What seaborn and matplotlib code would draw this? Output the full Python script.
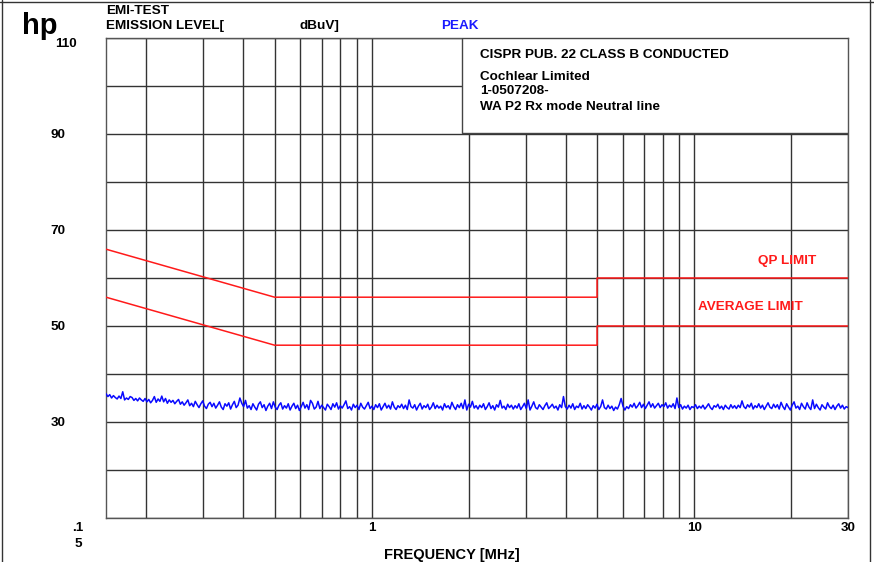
import numpy as np
import pandas as pd
import seaborn as sns
import matplotlib.pyplot as plt
from matplotlib.patches import Rectangle

# limit lines (CISPR 22 class B, conducted)
limit_freq = [0.15, 0.5, 5.0, 5.0, 30.0]
qp_limit = [66, 56, 56, 60, 60]
avg_limit = [56, 46, 46, 50, 50]

# peak trace, dBuV, sweep points log spaced 0.15..30 MHz
peak_level = [
    35.9, 35.3, 35.7, 35.0, 35.5, 35.1, 34.8, 35.4, 34.9, 36.3, 34.6, 35.0, 34.7, 35.3, 35.1, 34.5, 34.9, 34.4, 35.0, 34.6,
    34.3, 34.9, 34.2, 34.7, 34.0, 34.5, 35.3, 34.1, 34.8, 34.3, 35.4, 34.2, 34.9, 33.9, 34.6, 34.1, 34.5, 33.8, 34.3, 34.7,
    33.7, 34.2, 33.5, 34.0, 34.6, 33.4, 33.9, 33.2, 34.3, 33.6, 33.0, 33.8, 34.4, 33.3, 32.8, 33.7, 34.1, 33.2, 33.9, 32.9,
    33.5, 34.2, 33.1, 32.6, 33.8, 33.3, 34.0, 32.7, 33.6, 34.3, 33.0, 33.5, 35.0, 33.9, 33.2, 34.5, 32.9, 33.4, 32.6, 33.8,
    33.1, 32.5, 33.7, 34.2, 33.0, 33.6, 32.4, 33.3, 33.9, 32.8, 34.2, 33.1, 32.6, 33.5, 34.0, 32.7, 33.4, 32.9, 33.8, 32.5,
    33.3, 33.9, 32.8, 33.5, 32.4, 33.2, 34.1, 32.9, 33.6, 32.6, 34.5, 33.9, 32.7, 33.1, 34.3, 32.8, 33.5, 33.0, 32.5, 33.7,
    33.2, 32.6, 33.8, 33.1, 34.0, 32.7, 33.4, 32.9, 33.6, 34.4, 32.8, 33.2, 32.5, 33.7, 33.0, 33.5, 32.6, 33.9, 33.1, 32.7,
    33.4, 34.1, 32.8, 33.3, 32.6, 33.6, 33.0, 33.8, 32.5, 33.2, 33.9, 32.9, 33.5, 32.7, 34.2, 33.1, 32.6, 33.4, 33.0, 33.7,
    32.8, 33.5, 32.6, 34.6, 33.2, 32.9, 33.6, 32.5, 33.3, 33.9, 32.7, 33.4, 33.0, 33.7, 32.6, 33.1, 34.0, 32.8, 33.5, 32.9,
    33.3, 32.5, 33.8, 33.0, 33.4, 32.7, 34.1, 33.2, 32.6, 33.6, 33.0, 33.9, 32.8, 34.6, 32.5, 33.7, 33.1, 34.3, 32.9, 33.4,
    32.7, 33.5, 33.0, 33.8, 32.6, 33.2, 34.0, 32.8, 33.4, 32.5, 33.6, 33.1, 34.5, 32.9, 33.3, 32.6, 33.7, 33.0, 33.5, 32.7,
    33.4, 32.9, 33.8, 32.6, 33.2, 33.9, 32.8, 34.6, 32.5, 33.3, 34.2, 33.0, 32.7, 33.6, 33.1, 32.6, 33.4, 34.0, 32.8, 33.2,
    33.7, 32.9, 33.3, 32.5, 33.6, 33.0, 35.3, 33.2, 32.7, 33.5, 32.9, 33.8, 32.6, 33.3, 33.0, 33.9, 32.7, 33.4, 32.8, 33.6,
    33.1, 32.5, 33.4, 32.9, 33.7, 32.6, 33.2, 34.6, 33.0, 32.7, 33.5, 32.8, 33.3, 32.4, 33.1, 32.7, 33.6, 34.9, 33.3, 32.5,
    33.2, 32.8, 33.6, 33.1, 33.9, 32.9, 33.4, 34.1, 33.0, 33.7, 32.8, 33.5, 34.2, 33.1, 33.8, 32.9, 33.4, 33.9, 33.0, 33.6,
    33.2, 34.0, 32.9, 33.5, 33.1, 33.8, 32.8, 35.0, 33.0, 33.6, 32.7, 33.3, 32.9, 33.5, 32.6, 33.2, 33.0, 33.6, 32.8, 33.3,
    32.9, 33.5, 32.7, 33.2, 33.8, 33.0, 32.6, 33.4, 33.1, 33.7, 32.8, 33.3, 32.6, 33.5, 33.0, 32.7, 33.6, 32.9, 33.4, 32.8,
    33.5, 33.0, 34.4, 33.2, 32.8, 33.6, 33.1, 33.9, 32.7, 33.4, 33.0, 33.8, 32.9, 33.5, 32.6, 33.3, 34.0, 33.1, 32.8, 33.7,
    33.0, 33.6, 32.7, 34.1, 33.2, 32.6, 33.8, 33.1, 32.5, 33.5, 34.2, 32.9, 33.3, 32.6, 33.9, 33.2, 32.7, 34.0, 33.1, 32.6,
    34.6, 32.8, 33.7, 33.0, 32.5, 33.6, 33.1, 32.7, 34.0, 33.2, 32.8, 33.5, 32.6, 33.3, 33.8, 32.9, 33.5, 32.7, 33.2, 33.0,
]
peak_freq = np.geomspace(0.15, 30, len(peak_level))

x_major = [1, 10, 30]
x_major_labels = ['1', '10', '30']
x_minor = [0.2, 0.3, 0.4, 0.5, 0.6, 0.7, 0.8, 0.9, 2, 3, 4, 5, 6, 7, 8, 9, 20]
y_ticks = list(range(10, 111, 10))
y_labels = ['', '', '30', '', '50', '', '70', '', '90', '', '']

info_lines = ['CISPR PUB. 22 CLASS B CONDUCTED', 'Cochlear Limited', '1-0507208-',
              'WA P2 Rx mode Neutral line']

sns.set_style("white")
plt.rcParams['font.family'] = ['Liberation Sans', 'DejaVu Sans']
plt.rcParams['font.weight'] = 'bold'
plt.rcParams['text.color'] = 'black'
plt.rcParams['xtick.color'] = 'black'
plt.rcParams['ytick.color'] = 'black'

fs = 9.7

fig = plt.figure(figsize=(8.74, 5.62), dpi=100)
ax = fig.add_axes([106 / 874, 44 / 562, 742 / 874, 480 / 562])

peak_df = pd.DataFrame({'freq': peak_freq, 'level': peak_level})
sns.lineplot(data=peak_df, x='freq', y='level', ax=ax, color='#0a0aff', lw=1.1,
             estimator=None, sort=False, zorder=4)
sns.lineplot(x=limit_freq, y=qp_limit, ax=ax, color='#ff1a1a', lw=1.1,
             estimator=None, sort=False, zorder=3)
sns.lineplot(x=limit_freq, y=avg_limit, ax=ax, color='#ff1a1a', lw=1.1,
             estimator=None, sort=False, zorder=3)

ax.set_xscale('log')
ax.set_xlim(0.15, 30)
ax.set_ylim(10, 110)
ax.set_xticks(x_major)
ax.set_xticklabels(x_major_labels)
ax.set_xticks(x_minor, minor=True)
ax.set_xticklabels([], minor=True)
ax.set_yticks(y_ticks)
ax.set_yticklabels(y_labels)
ax.tick_params(axis='both', which='both', length=0, labelsize=fs, labelcolor='black')
ax.tick_params(axis='y', pad=29)
ax.tick_params(axis='x', pad=3)
for lab in ax.get_xticklabels() + ax.get_yticklabels():
    lab.set_fontweight('bold')
ax.grid(True, which='both', color='#333333', lw=1.0)
ax.set_axisbelow(True)
for sp in ax.spines.values():
    sp.set_color('#555555')
    sp.set_linewidth(1.0)
ax.set_xlabel('')
ax.set_ylabel('')

# info box at top right
ax.add_patch(Rectangle((0.48, 0.802), 0.52, 0.198, transform=ax.transAxes,
                       facecolor='white', edgecolor='#444444', lw=1.0, zorder=5))
info_y = [55, 77, 91, 107]
for txt, py in zip(info_lines, info_y):
    fig.text(480 / 874, 1 - py / 562, txt, fontsize=fs, fontweight='bold',
             va='center', ha='left', zorder=6)

ax.text(19.4, 63.5, 'QP LIMIT', color='#ff1a1a', fontsize=fs, fontweight='bold',
        ha='center', va='center')
ax.text(14.9, 54.0, 'AVERAGE LIMIT', color='#ff1a1a', fontsize=fs, fontweight='bold',
        ha='center', va='center')

# header
fig.text(106 / 874, 1 - 11 / 562, 'EMI-TEST', fontsize=fs, fontweight='bold', va='center')
fig.text(106 / 874, 1 - 26 / 562, 'EMISSION LEVEL[', fontsize=fs, fontweight='bold', va='center')
fig.text(300 / 874, 1 - 26 / 562, 'dBuV]', fontsize=fs, fontweight='bold', va='center')
fig.text(441 / 874, 1 - 26 / 562, 'PEAK', fontsize=fs, fontweight='bold', va='center',
         color='#1a1aff')
fig.text(22 / 874, 1 - 26 / 562, 'hp', fontsize=21, fontweight='bold', va='center')
fig.text(66 / 874, 1 - 44 / 562, '110', fontsize=fs, fontweight='bold', va='center', ha='center')
fig.text(78 / 874, 1 - 528 / 562, '.1', fontsize=fs, fontweight='bold', va='center', ha='center')
fig.text(78 / 874, 1 - 544 / 562, '5', fontsize=fs, fontweight='bold', va='center', ha='center')
fig.text(452 / 874, 1 - 555 / 562, 'FREQUENCY [MHz]', fontsize=10.5, fontweight='bold',
         va='center', ha='center', family=['Liberation Sans Narrow', 'Liberation Sans', 'DejaVu Sans'])

# outer frame
fig.add_artist(plt.Line2D([1.5 / 874, 1.5 / 874], [0, 1], color='#333333', lw=1.0))
fig.add_artist(plt.Line2D([0, 1], [1 - 1.5 / 562, 1 - 1.5 / 562], color='#333333', lw=1.0))
fig.add_artist(plt.Line2D([869.5 / 874, 869.5 / 874], [0, 1], color='#333333', lw=1.0))

fig.savefig('out.png', dpi=100)
